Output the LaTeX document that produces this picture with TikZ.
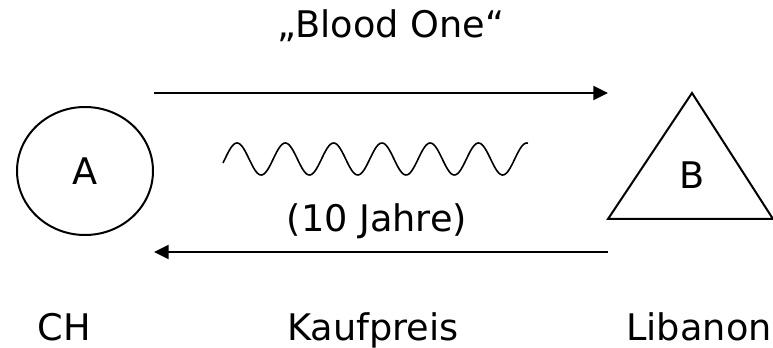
\documentclass[tikz,border=0pt]{standalone}
\usepackage{fontspec}
\setmainfont{DejaVu Sans}
\usetikzlibrary{arrows.meta,shapes.geometric}

\begin{document}
\begin{tikzpicture}[x=0.75pt, y=-0.75pt, line width=1.5pt,
    font=\fontsize{27.5}{33}\selectfont,
    party/.style={draw, ellipse, minimum width=102pt, minimum height=96pt, inner sep=0pt},
    flow/.style={-{Triangle[length=11pt,width=10.5pt]}},
    wave/.style={line width=1.2pt, line join=round},
    lbl/.style={anchor=base}
    ]
    \useasboundingbox (0,0) rectangle (773,348);

    \node[party] (A) at (85,171) {A};

    % triangle B
    \coordinate (bl) at (608,219);
    \coordinate (br) at (773,219);
    \coordinate (apex) at (692,93);
    \draw[line join=miter] (bl) -- (br) -- (apex) -- cycle;
    \node (B) at (692,175) {B};

    \coordinate (hi) at (0,93);
    \coordinate (lo) at (0,252);
    \draw[flow] (A.east |- hi) -- (bl |- hi);
    \draw[flow] (bl |- lo) -- (A.east |- lo);

    \node[lbl] (ware) at (391,38) {„Blood One“};
    \draw[wave] plot[domain=223:528, samples=240] (\x, {159 - 16*cos(7.4534*(\x-237))});
    \node[lbl] (dauer) at (377,232) {(10 Jahre)};

    \node[lbl] (ch) at (64,340) {CH};
    \node[lbl] (preis) at (373,340) {Kaufpreis};
    \node[lbl] (lb) at (699,340) {Libanon};
    %
\end{tikzpicture}
\end{document}
